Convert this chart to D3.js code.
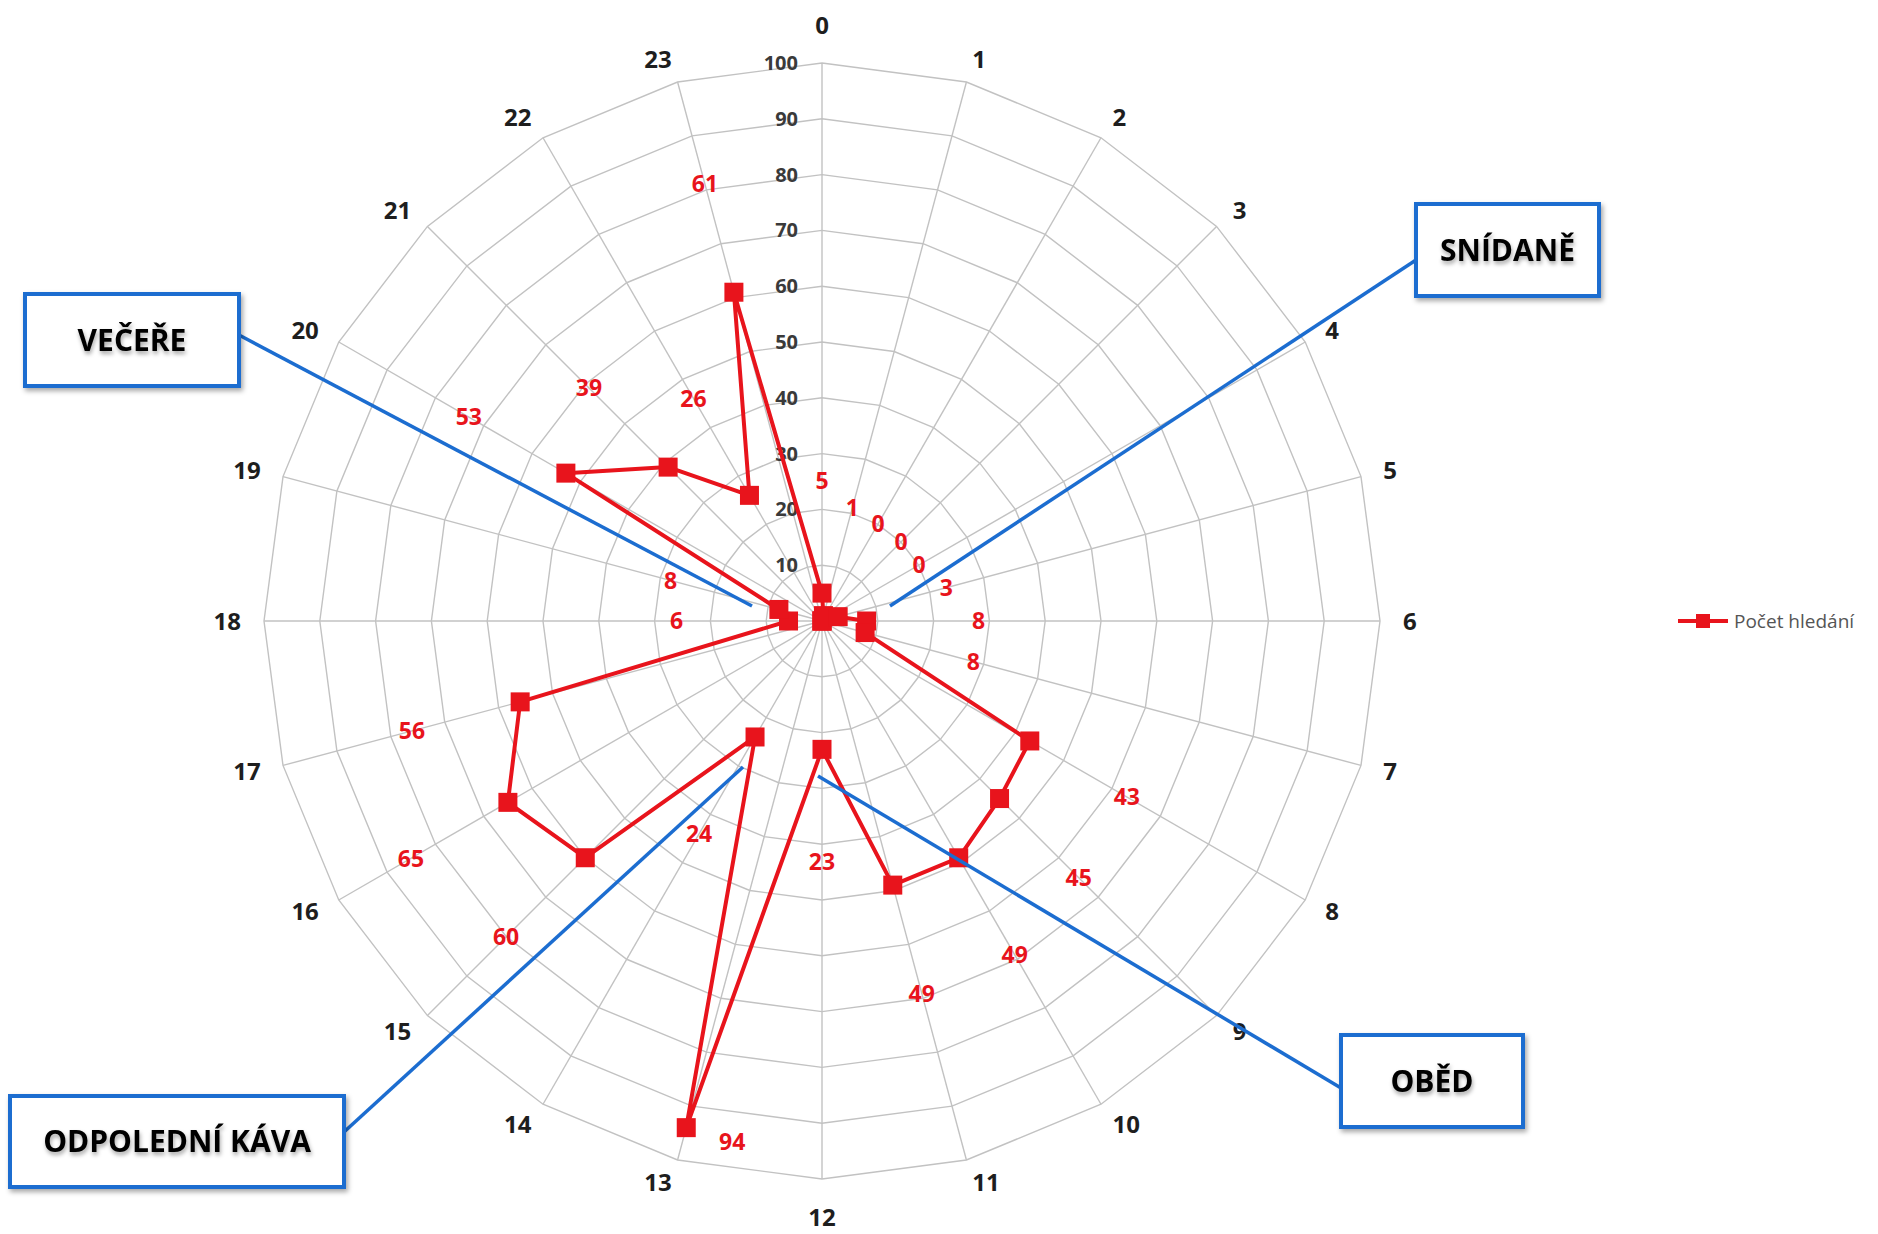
<!DOCTYPE html>
<html>
<head>
<meta charset="utf-8">
<script src="https://cdn.jsdelivr.net/npm/d3@7"></script>
<style>
  html, body { margin: 0; padding: 0; background: #fff; }
  svg { display: block; font-family: "Open Sans", "DejaVu Sans", sans-serif; }
</style>
</head>
<body>
<svg id="chart" width="1878" height="1234"></svg>
<script>
// hours of the day (categories)
const hours = d3.range(0, 24).map(String);
// number of searches per hour
const counts = [5, 1, 0, 0, 0, 3, 8, 8, 43, 45, 49, 49, 23, 94, 24, 60, 65, 56, 6, 8, 53, 39, 26, 61];
// radial axis ticks
const radialTicks = [0, 10, 20, 30, 40, 50, 60, 70, 80, 90, 100];
const seriesName = "Počet hledání";
// callout texts
const calloutLabels = ["SNÍDANĚ", "VEČEŘE", "OBĚD", "ODPOLEDNÍ KÁVA"];

const cx = 822, cy = 621, R = 558;
const red = "#e8141c", blue = "#1c6dd0";

const svg = d3.select("#chart");

const defs = svg.append("defs");
const shadow = defs.append("filter").attr("id", "shadow")
    .attr("x", "-20%").attr("y", "-20%").attr("width", "140%").attr("height", "150%");
shadow.append("feDropShadow").attr("dx", 2).attr("dy", 3).attr("stdDeviation", 2.5)
    .attr("flood-color", "#000").attr("flood-opacity", 0.35);
const tshadow = defs.append("filter").attr("id", "tshadow")
    .attr("x", "-10%").attr("y", "-20%").attr("width", "120%").attr("height", "160%");
tshadow.append("feDropShadow").attr("dx", 1).attr("dy", 3).attr("stdDeviation", 2)
    .attr("flood-color", "#000").attr("flood-opacity", 0.35);

const r = d3.scaleLinear().domain([0, 100]).range([0, R]);
const angle = d3.scaleLinear().domain([0, hours.length]).range([0, 2 * Math.PI]);

const px = (a, rad) => cx + rad * Math.sin(a);
const py = (a, rad) => cy - rad * Math.cos(a);

const g = svg.append("g");

// grid polygons
const grid = g.append("g").attr("stroke", "#c2c2c2").attr("stroke-width", 1.4).attr("fill", "none");
grid.selectAll("path.ring")
    .data(radialTicks.filter(t => t > 0))
    .join("path")
    .attr("class", "ring")
    .attr("d", t => d3.line()(hours.map((h, i) => [px(angle(i), r(t)), py(angle(i), r(t))])) + "Z");
grid.selectAll("line.spoke")
    .data(hours)
    .join("line")
    .attr("class", "spoke")
    .attr("x1", cx).attr("y1", cy)
    .attr("x2", (h, i) => px(angle(i), R))
    .attr("y2", (h, i) => py(angle(i), R));

// radial tick labels
g.append("g").selectAll("text")
    .data(radialTicks)
    .join("text")
    .attr("x", cx - 24)
    .attr("y", t => cy - r(t))
    .attr("dy", "0.35em")
    .attr("text-anchor", "end")
    .attr("font-size", 20)
    .attr("font-weight", "bold")
    .attr("fill", "#3a3a3a")
    .text(d => d);

// category labels: edge-anchored just outside the outer ring
const labelR = i => R + (i % 12 === 0 ? 38 : 23);
const anchorOf = i => i % 12 === 0 ? "middle" : (i < 12 ? "start" : "end");
g.append("g").selectAll("text")
    .data(hours)
    .join("text")
    .attr("x", (h, i) => px(angle(i), labelR(i)))
    .attr("y", (h, i) => py(angle(i), labelR(i)))
    .attr("dy", "0.36em")
    .attr("text-anchor", (h, i) => anchorOf(i))
    .attr("font-size", 24)
    .attr("font-weight", "bold")
    .attr("fill", "#1e1e1e")
    .text(d => d);

// series line
const radial = d3.lineRadial()
    .angle((d, i) => angle(i))
    .radius(d => r(d))
    .curve(d3.curveLinearClosed);

g.append("path")
    .datum(counts)
    .attr("transform", `translate(${cx},${cy})`)
    .attr("d", radial)
    .attr("fill", "none")
    .attr("stroke", red)
    .attr("stroke-width", 4)
    .attr("stroke-linejoin", "round");

// markers
const ms = 19;
g.append("g").selectAll("rect")
    .data(counts)
    .join("rect")
    .attr("x", (d, i) => px(angle(i), r(d)) - ms / 2)
    .attr("y", (d, i) => py(angle(i), r(d)) - ms / 2)
    .attr("width", ms).attr("height", ms)
    .attr("fill", red);

// data labels (the peak label sits beside its marker)
const peak = d3.max(counts);
g.append("g").selectAll("text")
    .data(counts)
    .join("text")
    .attr("x", (d, i) => d === peak ? px(angle(i), r(d)) + 46 : px(angle(i), r(d) + 112))
    .attr("y", (d, i) => d === peak ? py(angle(i), r(d)) + 14 : py(angle(i), r(d) + 112))
    .attr("dy", "0.36em")
    .attr("text-anchor", "middle")
    .attr("font-size", 23)
    .attr("font-weight", "bold")
    .attr("fill", red)
    .text(d => d);

// callouts
const callouts = [
    { text: calloutLabels[0], box: [1416, 204, 183, 92], from: [1416, 260], to: [890, 606] },
    { text: calloutLabels[1], box: [25, 294, 214, 92], from: [239, 335], to: [752, 606] },
    { text: calloutLabels[2], box: [1341, 1035, 182, 92], from: [1341, 1088], to: [818, 776] },
    { text: calloutLabels[3], box: [10, 1096, 334, 91], from: [344, 1132], to: [743, 767] }
];

const cg = svg.append("g");
cg.selectAll("line")
    .data(callouts)
    .join("line")
    .attr("x1", d => d.from[0]).attr("y1", d => d.from[1])
    .attr("x2", d => d.to[0]).attr("y2", d => d.to[1])
    .attr("stroke", blue).attr("stroke-width", 3.5);

const boxes = cg.selectAll("g.box")
    .data(callouts)
    .join("g")
    .attr("class", "box");
boxes.append("rect")
    .attr("x", d => d.box[0]).attr("y", d => d.box[1])
    .attr("width", d => d.box[2]).attr("height", d => d.box[3])
    .attr("fill", "#fff")
    .attr("stroke", blue).attr("stroke-width", 4)
    .attr("filter", "url(#shadow)");
boxes.append("text")
    .attr("x", d => d.box[0] + d.box[2] / 2)
    .attr("y", d => d.box[1] + d.box[3] / 2)
    .attr("dy", "0.36em")
    .attr("text-anchor", "middle")
    .attr("font-size", 30)
    .attr("font-weight", "bold")
    .attr("fill", "#000")
    .attr("filter", "url(#tshadow)")
    .text(d => d.text);

// legend
const lg = svg.append("g").attr("transform", "translate(1678,621)");
lg.append("line").attr("x1", 0).attr("x2", 50).attr("y1", 0).attr("y2", 0)
    .attr("stroke", red).attr("stroke-width", 4);
lg.append("rect").attr("x", 18).attr("y", -7).attr("width", 14).attr("height", 14).attr("fill", red);
lg.append("text").attr("x", 56).attr("y", 0).attr("dy", "0.36em")
    .attr("font-size", 19).attr("fill", "#555")
    .text(seriesName);
</script>
</body>
</html>
